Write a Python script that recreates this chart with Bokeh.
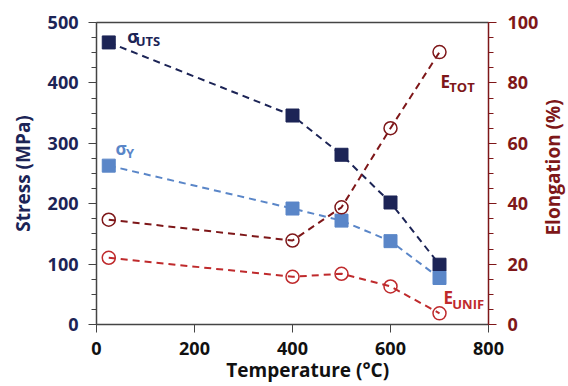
import math
from bokeh.plotting import figure
from bokeh.models import Range1d, LinearAxis, SingleIntervalTicker, FixedTicker
from bokeh.core.properties import value
from bokeh.embed import file_html
from bokeh.resources import INLINE

temps = [25, 400, 500, 600, 700]
uts = [467, 346, 281, 202, 99]
ys = [263, 192, 172, 138, 77]
e_tot = [34.7, 27.8, 38.8, 65, 90.2]
e_unif = [22.1, 15.8, 16.8, 12.6, 3.7]

NAVY = "#1c2456"
LBLUE = "#5a86c8"
DRED = "#7e1719"
RED = "#bf2a2c"
FONT = "Open Sans"

W, H = 566, 384
# frame = whole canvas; axes placed with fixed_location
XPX = 392 / 800.0      # px per degree
YPX = 302 / 500.0      # px per MPa
x0, y0top, y0 = 96, 22, 324
p = figure(width=W, height=H, output_backend="svg", toolbar_location=None,
           x_range=Range1d(-x0 / XPX, 800 + (W - 488) / XPX),
           y_range=Range1d(-(H - y0) / YPX, 500 + y0top / YPX),
           min_border=0)
p.extra_y_ranges = {"el": Range1d(-(H - y0) / YPX / 5, 100 + y0top / YPX / 5)}
p.xgrid.grid_line_color = None
p.ygrid.grid_line_color = None
p.outline_line_color = None
p.background_fill_color = "white"

p.xaxis.ticker = SingleIntervalTicker(interval=200, num_minor_ticks=0)
p.yaxis.ticker = SingleIntervalTicker(interval=100, num_minor_ticks=4)
p.xaxis.fixed_location = 0
p.yaxis.fixed_location = 0
p.xaxis.bounds = (0, 800)
p.yaxis.bounds = (0, 500)

for ax in [p.xaxis[0], p.yaxis[0]]:
    ax.axis_line_color = "#444444"
    ax.axis_line_width = 1.5
    ax.major_tick_line_color = "#444444"
    ax.minor_tick_line_color = "#444444"
    ax.major_tick_in = 0
    ax.major_tick_out = 8
    ax.minor_tick_in = 0
    ax.minor_tick_out = 5
    ax.major_label_text_font = FONT
    ax.major_label_text_font_style = "bold"
    ax.major_label_text_font_size = "18px"

p.xaxis.major_label_text_color = "#111111"
p.xaxis.major_label_standoff = 9
p.yaxis.major_label_text_color = NAVY
p.yaxis.major_label_standoff = 10

rax = LinearAxis(y_range_name="el", fixed_location=800, bounds=(0, 100),
                 ticker=SingleIntervalTicker(interval=20, num_minor_ticks=4))
rax.axis_line_color = DRED
rax.axis_line_width = 1.5
rax.major_tick_line_color = DRED
rax.minor_tick_line_color = DRED
rax.major_tick_in = 0
rax.major_tick_out = 8
rax.minor_tick_in = 0
rax.minor_tick_out = 5
rax.major_label_text_font = FONT
rax.major_label_text_font_style = "bold"
rax.major_label_text_font_size = "18px"
rax.major_label_text_color = DRED
rax.major_label_standoff = 11
p.add_layout(rax, "right")

top = LinearAxis(fixed_location=500, bounds=(0, 800), ticker=FixedTicker(ticks=[]))
top.axis_line_color = "#444444"
top.axis_line_width = 1.5
top.major_label_text_color = None
top.major_tick_line_color = None
top.minor_tick_line_color = None
p.add_layout(top, "above")

# axis titles
def title(x, y, t, color, angle):
    p.text([x], [y], text=[t], text_color=color, text_font=value(FONT),
           text_font_style="bold", text_font_size="19px",
           text_align="center", text_baseline="middle", angle=angle)

title(-151, 250, "Stress (MPa)", NAVY, math.pi / 2)
title(931, 260, "Elongation (%)", DRED, math.pi / 2)
title(431, -76, "Temperature (°C)", "#111111", 0)

DASH = "7 5"
p.line(temps, uts, line_color=NAVY, line_width=2, line_dash=DASH)
p.scatter(temps, uts, marker="square", size=13, fill_color=NAVY, line_color=NAVY)
p.line(temps, ys, line_color=LBLUE, line_width=2, line_dash=DASH)
p.scatter(temps, ys, marker="square", size=13, fill_color=LBLUE, line_color=LBLUE)

p.line(temps, e_tot, line_color=DRED, line_width=2, line_dash=DASH, y_range_name="el")
p.scatter(temps, e_tot, marker="circle", size=13, fill_color=None, line_color=DRED,
          line_width=1.5, y_range_name="el")
p.line(temps, e_unif, line_color=RED, line_width=2, line_dash=DASH, y_range_name="el")
p.scatter(temps, e_unif, marker="circle", size=13, fill_color=None, line_color=RED,
          line_width=1.5, y_range_name="el")

def lab(x, y, t, color, size, rng=None):
    kw = {} if rng is None else {"y_range_name": rng}
    p.text([x], [y], text=[t], text_color=color, text_font=value(FONT),
           text_font_style="bold", text_font_size=size, text_baseline="middle",
           text_align="left", **kw)

lab(63, 477, "σ", NAVY, "17px")
lab(80, 470, "UTS", NAVY, "13px")
lab(39, 291, "σ", LBLUE, "17px")
lab(60, 284, "Y", LBLUE, "13px")
lab(702, 80.5, "E", DRED, "17px", "el")
lab(720, 78.5, "TOT", DRED, "13px", "el")
lab(708, 8.8, "E", RED, "17px", "el")
lab(726, 6.8, "UNIF", RED, "13px", "el")

open("out.html", "w").write(file_html(p, INLINE))
